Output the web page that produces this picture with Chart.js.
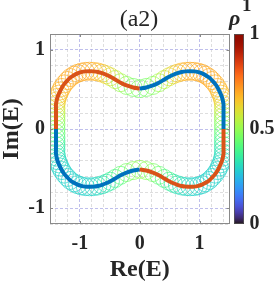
<!DOCTYPE html>
<html>
<head>
<meta charset="utf-8">
<script src="https://cdn.jsdelivr.net/npm/chart.js@4.4.1/dist/chart.umd.min.js"></script>
<style>
  html, body { margin: 0; padding: 0; background: #fff; }
  #wrap { width: 278px; height: 283px; }
</style>
</head>
<body>
<div id="wrap"><canvas id="spec" width="278" height="283"></canvas></div>
<script>
// spectrum loop, read off the figure quarter by quarter
// top-right: (0, 0.51) -> (1.40, 0)
const reTR = [0.00, 0.11, 0.22, 0.32, 0.41, 0.49, 0.56, 0.63, 0.70, 0.77, 0.84, 0.91, 0.98, 1.04, 1.10,
  1.16, 1.21, 1.26, 1.30, 1.33, 1.355, 1.375, 1.39, 1.40, 1.40, 1.40, 1.40, 1.40, 1.40, 1.40];
const imTR = [0.51, 0.525, 0.55, 0.585, 0.625, 0.66, 0.685, 0.705, 0.72, 0.728, 0.73, 0.728, 0.718, 0.703, 0.68,
  0.65, 0.612, 0.57, 0.525, 0.48, 0.44, 0.40, 0.355, 0.31, 0.26, 0.21, 0.16, 0.11, 0.055, 0.00];
const rhoTR = [0.46, 0.46, 0.48, 0.51, 0.55, 0.59, 0.62, 0.65, 0.67, 0.68, 0.69, 0.69, 0.69, 0.69, 0.69,
  0.69, 0.69, 0.68, 0.68, 0.67, 0.66, 0.65, 0.63, 0.61, 0.58, 0.55, 0.52, 0.49, 0.47, 0.45];

// bottom-right: -> (0, -0.51)
const reBR = [1.40, 1.40, 1.40, 1.40, 1.40, 1.40, 1.39, 1.375, 1.355, 1.33, 1.30, 1.26, 1.21, 1.16, 1.10,
  1.04, 0.98, 0.91, 0.84, 0.77, 0.70, 0.63, 0.56, 0.49, 0.41, 0.32, 0.22, 0.11, 0.00];
const imBR = [-0.055, -0.11, -0.16, -0.21, -0.26, -0.31, -0.355, -0.40, -0.44, -0.48, -0.525, -0.57, -0.612, -0.65, -0.68,
  -0.703, -0.718, -0.728, -0.73, -0.728, -0.72, -0.705, -0.685, -0.66, -0.625, -0.585, -0.55, -0.525, -0.51];
const rhoBR = [0.43, 0.40, 0.37, 0.35, 0.33, 0.32, 0.31, 0.30, 0.30, 0.29, 0.29, 0.29, 0.29, 0.29, 0.29,
  0.29, 0.29, 0.29, 0.29, 0.30, 0.31, 0.32, 0.34, 0.37, 0.40, 0.43, 0.46, 0.48, 0.50];

// bottom-left: -> (-1.40, 0)
const reBL = [-0.11, -0.22, -0.32, -0.41, -0.49, -0.56, -0.63, -0.70, -0.77, -0.84, -0.91, -0.98, -1.04, -1.10,
  -1.16, -1.21, -1.26, -1.30, -1.33, -1.355, -1.375, -1.39, -1.40, -1.40, -1.40, -1.40, -1.40, -1.40, -1.40];
const imBL = [-0.525, -0.55, -0.585, -0.625, -0.66, -0.685, -0.705, -0.72, -0.728, -0.73, -0.728, -0.718, -0.703, -0.68,
  -0.65, -0.612, -0.57, -0.525, -0.48, -0.44, -0.40, -0.355, -0.31, -0.26, -0.21, -0.16, -0.11, -0.055, 0.00];
const rhoBL = [0.48, 0.46, 0.43, 0.40, 0.37, 0.34, 0.32, 0.31, 0.30, 0.29, 0.29, 0.29, 0.29, 0.29,
  0.29, 0.29, 0.29, 0.29, 0.29, 0.30, 0.30, 0.31, 0.32, 0.33, 0.35, 0.37, 0.40, 0.43, 0.45];

// top-left: -> back to (0, 0.51)
const reTL = [-1.40, -1.40, -1.40, -1.40, -1.40, -1.40, -1.39, -1.375, -1.355, -1.33, -1.30, -1.26, -1.21, -1.16,
  -1.10, -1.04, -0.98, -0.91, -0.84, -0.77, -0.70, -0.63, -0.56, -0.49, -0.41, -0.32, -0.22, -0.11];
const imTL = [0.055, 0.11, 0.16, 0.21, 0.26, 0.31, 0.355, 0.40, 0.44, 0.48, 0.525, 0.57, 0.612, 0.65,
  0.68, 0.703, 0.718, 0.728, 0.73, 0.728, 0.72, 0.705, 0.685, 0.66, 0.625, 0.585, 0.55, 0.525];
const rhoTL = [0.47, 0.49, 0.52, 0.55, 0.58, 0.61, 0.63, 0.65, 0.66, 0.67, 0.68, 0.68, 0.69, 0.69,
  0.69, 0.69, 0.69, 0.69, 0.69, 0.68, 0.67, 0.65, 0.62, 0.59, 0.55, 0.51, 0.48, 0.46];

const reTicks = [-1.4, -1.2, -1, -0.8, -0.6, -0.4, -0.2, 0, 0.2, 0.4, 0.6, 0.8, 1, 1.2, 1.4];
const imTicks = [-1.2, -1, -0.8, -0.6, -0.4, -0.2, 0, 0.2, 0.4, 0.6, 0.8, 1, 1.2];
const majorTicks = [-1, 0, 1];
const cbTicks = [0, 0.5, 1];

const SERIF = '"Liberation Serif", "Times New Roman", serif';
const INK = '#262626';
const BLUE = '#0072BD';
const RED = '#D95319';

// turbo colormap (d3 polynomial fit)
function turbo(t) {
  t = Math.max(0, Math.min(1, t));
  const r = 34.61 + t * (1172.33 - t * (10793.56 - t * (33300.12 - t * (38394.49 - t * 14825.05))));
  const g = 23.31 + t * (557.33 + t * (1225.33 - t * (3574.96 - t * (1073.77 + t * 707.56))));
  const b = 27.2 + t * (3211.1 - t * (15327.97 - t * (27814 - t * (22569.18 - t * 6838.66))));
  const c = v => Math.max(0, Math.min(255, Math.round(v)));
  return `rgb(${c(r)},${c(g)},${c(b)})`;
}

const pts = (re, im) => re.map((x, i) => ({ x, y: im[i] }));
const tr = pts(reTR, imTR), br = pts(reBR, imBR), bl = pts(reBL, imBL), tl = pts(reTL, imTL);

const ringPts = [...tr, ...br, ...bl, ...tl];
const ringCols = [...rhoTR, ...rhoBR, ...rhoBL, ...rhoTL].map(turbo);

const lineSet = (data, color) => ({
  data, showLine: true, borderColor: color, borderWidth: 4, pointRadius: 0,
  tension: 0.3, fill: false, order: 0
});

const boxPlugin = {
  id: 'box',
  afterDraw(chart) {
    const { ctx, chartArea: a, scales } = chart;
    ctx.save();
    // inward ticks
    ctx.strokeStyle = '#8a8a8a';
    ctx.lineWidth = 1;
    ctx.beginPath();
    majorTicks.forEach(v => {
      const px = Math.round(scales.x.getPixelForValue(v)) + 0.5;
      ctx.moveTo(px, a.bottom); ctx.lineTo(px, a.bottom - 3);
      ctx.moveTo(px, a.top); ctx.lineTo(px, a.top + 3);
      const py = Math.round(scales.y.getPixelForValue(v)) + 0.5;
      ctx.moveTo(a.left, py); ctx.lineTo(a.left + 3, py);
      ctx.moveTo(a.right, py); ctx.lineTo(a.right - 3, py);
    });
    ctx.stroke();
    ctx.strokeRect(Math.round(a.left) + 0.5, Math.round(a.top) + 0.5,
      Math.round(a.right - a.left) - 1, Math.round(a.bottom - a.top) - 1);

    // colorbar
    const cb = scales.cb;
    const x0 = Math.round(cb.left) + 4;
    const g = ctx.createLinearGradient(0, cb.bottom, 0, cb.top);
    for (let i = 0; i <= 32; i++) g.addColorStop(i / 32, turbo(i / 32));
    ctx.fillStyle = g;
    ctx.fillRect(x0, Math.round(cb.top), 10, Math.round(cb.bottom - cb.top));
    ctx.strokeStyle = '#555';
    ctx.lineWidth = 0.8;
    ctx.strokeRect(x0 + 0.5, Math.round(cb.top) + 0.5, 9, Math.round(cb.bottom - cb.top) - 1);

    // colorbar label
    ctx.fillStyle = INK;
    ctx.textAlign = 'left';
    ctx.textBaseline = 'alphabetic';
    ctx.font = 'italic bold 22px ' + SERIF;
    ctx.fillText('ρ', x0 - 5, 25);
    ctx.font = 'bold 19px ' + SERIF;
    ctx.fillText('1', x0 + 8, 11);
    ctx.restore();
  }
};

const gridColor = c => majorTicks.includes(c.tick && c.tick.value) ? 'rgba(170,170,230,0.75)' : 'rgba(200,200,200,0.6)';

new Chart(document.getElementById('spec'), {
  type: 'scatter',
  data: {
    datasets: [
      lineSet(tr, BLUE),
      lineSet([tr[tr.length - 1], ...br], RED),
      lineSet([br[br.length - 1], ...bl], BLUE),
      lineSet([bl[bl.length - 1], ...tl, tr[0]], RED),
      {
        data: ringPts,
        showLine: false,
        pointRadius: 9,
        pointBorderWidth: 0.7,
        pointBackgroundColor: 'rgba(0,0,0,0)',
        pointBorderColor: ringCols,
        order: 1
      }
    ]
  },
  options: {
    responsive: false,
    animation: false,
    devicePixelRatio: 1,
    events: [],
    layout: { padding: { left: 0, right: 0, top: 0, bottom: 0 } },
    plugins: {
      legend: { display: false },
      tooltip: { enabled: false },
      title: {
        display: true,
        text: '(a2)',
        color: INK,
        font: { family: SERIF, size: 24, weight: 'normal', lineHeight: 1.1 },
        padding: { top: 7, bottom: 0.6 }
      }
    },
    scales: {
      x: {
        type: 'linear', min: -1.5, max: 1.5,
        afterBuildTicks: s => { s.ticks = reTicks.map(v => ({ value: v })); },
        afterFit: s => { s.height = 59; },
        ticks: {
          autoSkip: false, maxRotation: 0, padding: 8, color: INK,
          font: { family: SERIF, size: 20, weight: 'bold' },
          callback: v => majorTicks.includes(v) ? String(v) : ''
        },
        grid: { color: gridColor, lineWidth: 1, drawTicks: false },
        border: { display: false, dash: [3, 2] },
        title: {
          display: true, text: 'Re(E)', color: INK,
          font: { family: SERIF, size: 24, weight: 'bold', lineHeight: 1 },
          padding: { top: 2, bottom: 1 }
        }
      },
      y: {
        type: 'linear', min: -1.2, max: 1.2,
        afterBuildTicks: s => { s.ticks = imTicks.map(v => ({ value: v })); },
        afterFit: s => { s.width = 50; },
        ticks: {
          autoSkip: false, padding: 5, color: INK,
          font: { family: SERIF, size: 20, weight: 'bold' },
          callback: v => majorTicks.includes(v) ? String(v) : ''
        },
        grid: { color: gridColor, lineWidth: 1, drawTicks: false },
        border: { display: false, dash: [3, 2] },
        title: {
          display: true, text: 'Im(E)', color: INK,
          font: { family: SERIF, size: 24, weight: 'bold', lineHeight: 1 },
          padding: { top: 0, bottom: 0 }
        }
      },
      cb: {
        type: 'linear', position: 'right', min: 0, max: 1,
        afterBuildTicks: s => { s.ticks = cbTicks.map(v => ({ value: v })); },
        afterFit: s => { s.width = 48.5; },
        ticks: {
          autoSkip: false, padding: 20, color: INK,
          font: { family: SERIF, size: 20, weight: 'bold' },
          callback: v => String(v)
        },
        grid: { display: false, drawTicks: false },
        border: { display: false }
      }
    }
  },
  plugins: [boxPlugin]
});
</script>
</body>
</html>
